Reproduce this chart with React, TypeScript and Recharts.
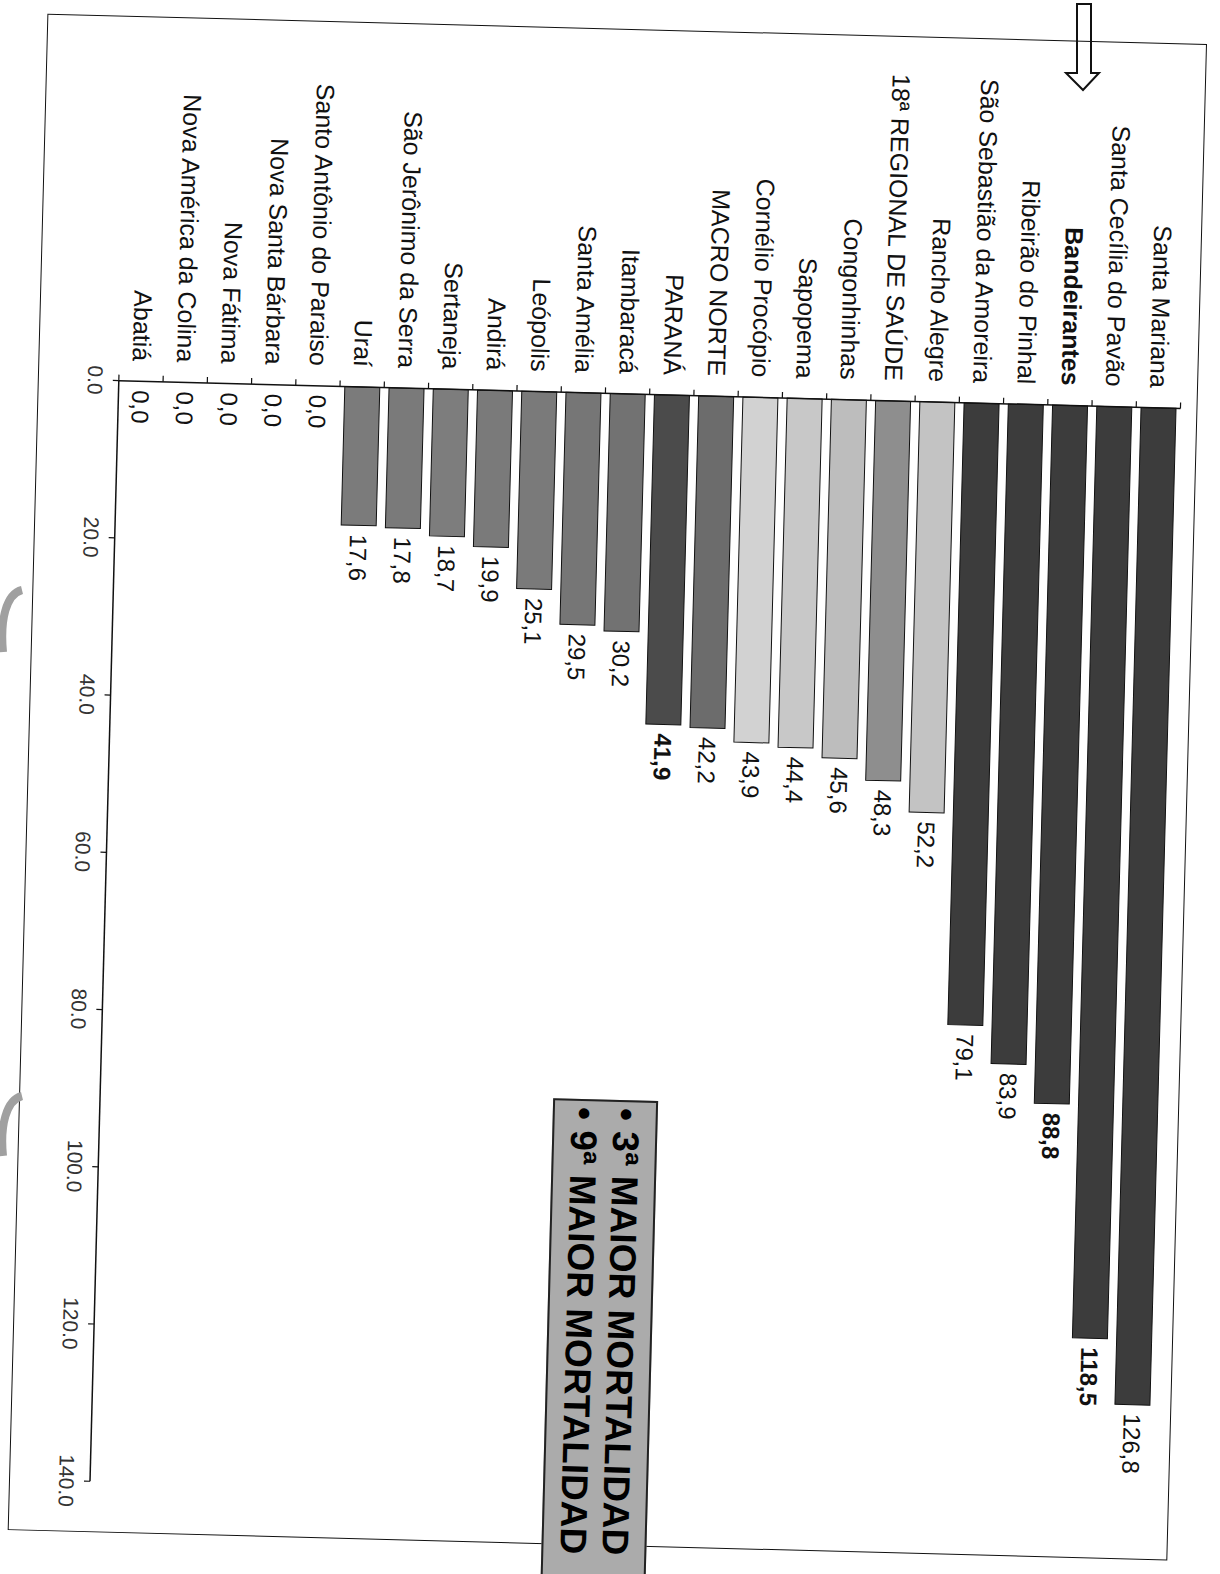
import React from 'react';
import { BarChart, Bar, XAxis, YAxis, Cell, LabelList } from 'recharts';

// ---------- data ----------
const categories = [
  'Santa Mariana',
  'Santa Cecília do Pavão',
  'Bandeirantes',
  'Ribeirão do Pinhal',
  'São Sebastião da Amoreira',
  'Rancho Alegre',
  '18ª REGIONAL DE SAÚDE',
  'Congonhinhas',
  'Sapopema',
  'Cornélio Procópio',
  'MACRO NORTE',
  'PARANÁ',
  'Itambaracá',
  'Santa Amélia',
  'Leópolis',
  'Andirá',
  'Sertaneja',
  'São Jerônimo da Serra',
  'Uraí',
  'Santo Antônio do Paraiso',
  'Nova Santa Bárbara',
  'Nova Fátima',
  'Nova América da Colina',
  'Abatiá',
];
const values = [
  126.8, 118.5, 88.8, 83.9, 79.1, 52.2, 48.3, 45.6, 44.4, 43.9, 42.2, 41.9,
  30.2, 29.5, 25.1, 19.9, 18.7, 17.8, 17.6, 0, 0, 0, 0, 0,
];
const valueTicks = [0, 20, 40, 60, 80, 100, 120, 140];
const annotationLines = ['3ª MAIOR MORTALIDAD', '9ª MAIOR MORTALIDAD'];

// ---------- styles ----------
const FONT = '"Liberation Sans", Arial, Helvetica, sans-serif';
const DARK = '#3c3c3c';
const MED = '#7a7a7a';
const BAR_FILLS = [
  DARK, DARK, DARK, DARK, DARK,
  '#c3c3c3', '#8e8e8e', '#bdbdbd', '#c8c8c8', '#d2d2d2',
  '#6c6c6c', '#4b4b4b',
  '#727272', '#767676', MED, MED, '#7d7d7d', MED, '#7b7b7b',
  MED, MED, MED, MED, MED,
];
const BOLD_CATEGORIES = ['Bandeirantes'];
const BOLD_VALUES = [118.5, 88.8, 41.9];

const W = 1517;
const H = 1160;
const MARGIN = { top: 17, right: 51, bottom: 21, left: 0 };
const Y_AXIS_W = 365;
const X_AXIS_H = 60;
const PLOT_H = H - MARGIN.top - MARGIN.bottom - X_AXIS_H;
const BAND = PLOT_H / categories.length;
const LABEL_GAP = 9;
const LABEL_SIZE = 24;

const data = categories.map((name, i) => ({ name, value: values[i] }));

const fmt = (v: number) => v.toFixed(1).replace('.', ',');

function ValueText({ x, y, value }: { x: number; y: number; value: number }) {
  const bold = BOLD_VALUES.includes(value);
  return (
    <text
      x={x}
      y={y}
      dy="0.35em"
      textAnchor="start"
      fontSize={LABEL_SIZE}
      fontFamily={FONT}
      fontWeight={bold ? 700 : 400}
      fill="#111"
    >
      {fmt(value)}
    </text>
  );
}

function CategoryTick(props: any) {
  const { x, y, payload } = props;
  const idx = categories.indexOf(payload.value);
  const isLast = idx === categories.length - 1;
  const bold = BOLD_CATEGORIES.includes(payload.value);
  const v = values[idx];
  return (
    <g>
      <line x1={x - 6} x2={x} y1={y - BAND / 2} y2={y - BAND / 2} stroke="#111" strokeWidth={1.2} />
      {isLast && (
        <line x1={x - 6} x2={x} y1={y + BAND / 2} y2={y + BAND / 2} stroke="#111" strokeWidth={1.2} />
      )}
      <text
        x={x - 20}
        y={y}
        dy="0.35em"
        textAnchor="end"
        fontSize={25}
        fontFamily={FONT}
        fontWeight={bold ? 700 : 400}
        fill="#111"
      >
        {payload.value}
      </text>
      {v === 0 && <ValueText x={x + LABEL_GAP} y={y} value={v} />}
    </g>
  );
}

function ValueLabel(props: any) {
  const vb = props.viewBox || {};
  const x = props.x ?? vb.x;
  const y = props.y ?? vb.y;
  const width = props.width ?? vb.width ?? 0;
  const height = props.height ?? vb.height ?? 0;
  const value = Number(props.value);
  if (!value) return null;
  return <ValueText x={x + width + LABEL_GAP} y={y + height / 2} value={value} />;
}

export default function App() {
  return (
    <div
      style={{
        position: 'absolute',
        left: 0,
        top: 0,
        width: 1220,
        height: 1574,
        overflow: 'hidden',
        background: '#ffffff',
      }}
    >
      <div
        style={{
          position: 'absolute',
          left: 1207,
          top: 44,
          width: W,
          height: H,
          transformOrigin: '0 0',
          transform: 'rotate(91.5deg)',
        }}
      >
        <BarChart
          width={W}
          height={H}
          data={data}
          layout="vertical"
          margin={MARGIN}
          barCategoryGap="10%"
        >
          <XAxis
            type="number"
            domain={[0, 140]}
            ticks={valueTicks}
            interval={0}
            tickFormatter={(v: number) => v.toFixed(1)}
            height={X_AXIS_H}
            axisLine={{ stroke: '#111', strokeWidth: 1.5 }}
            tickLine={{ stroke: '#111', strokeWidth: 1.2 }}
            tickSize={6}
            tickMargin={10}
            tick={{ fontSize: 21, fill: '#333', fontFamily: FONT }}
          />
          <YAxis
            type="category"
            dataKey="name"
            width={Y_AXIS_W}
            interval={0}
            tickLine={false}
            tickSize={0}
            tickMargin={0}
            axisLine={{ stroke: '#111', strokeWidth: 1.5 }}
            tick={(p: any) => <CategoryTick {...p} />}
          />
          <Bar dataKey="value" isAnimationActive={false} stroke="#111" strokeWidth={1}>
            {data.map((d, i) => (
              <Cell key={d.name} fill={BAR_FILLS[i]} />
            ))}
            <LabelList dataKey="value" content={(p: any) => <ValueLabel {...p} />} />
          </Bar>
        </BarChart>
        <div
          style={{
            position: 'absolute',
            left: 0,
            top: 0,
            width: W,
            height: H,
            border: '1.5px solid #111',
            boxSizing: 'border-box',
            pointerEvents: 'none',
          }}
        />
        <div
          style={{
            position: 'absolute',
            left: 1071,
            top: 521,
            width: 700,
            height: 105,
            background: '#ababab',
            border: '2px solid #222',
            boxSizing: 'border-box',
            padding: '9px 0 0 6px',
            fontFamily: FONT,
            fontWeight: 700,
            fontSize: 37,
            lineHeight: '42px',
            color: '#000',
            whiteSpace: 'nowrap',
          }}
        >
          {annotationLines.map((t) => (
            <div key={t}>{'• ' + t}</div>
          ))}
        </div>
      </div>
      <svg
        width={1220}
        height={1574}
        style={{ position: 'absolute', left: 0, top: 0, pointerEvents: 'none' }}
      >
        <polygon
          points="1077,4 1091,4 1091,73 1099,73 1083,90 1066,73 1077,73"
          fill="none"
          stroke="#111"
          strokeWidth={2}
        />
        <path d="M 22 590 C 6 594, 0 620, 3 652" stroke="#a0a0a0" strokeWidth={8} fill="none" />
        <path d="M 22 1096 C 6 1100, 0 1126, 3 1156" stroke="#a0a0a0" strokeWidth={8} fill="none" />
      </svg>
    </div>
  );
}
